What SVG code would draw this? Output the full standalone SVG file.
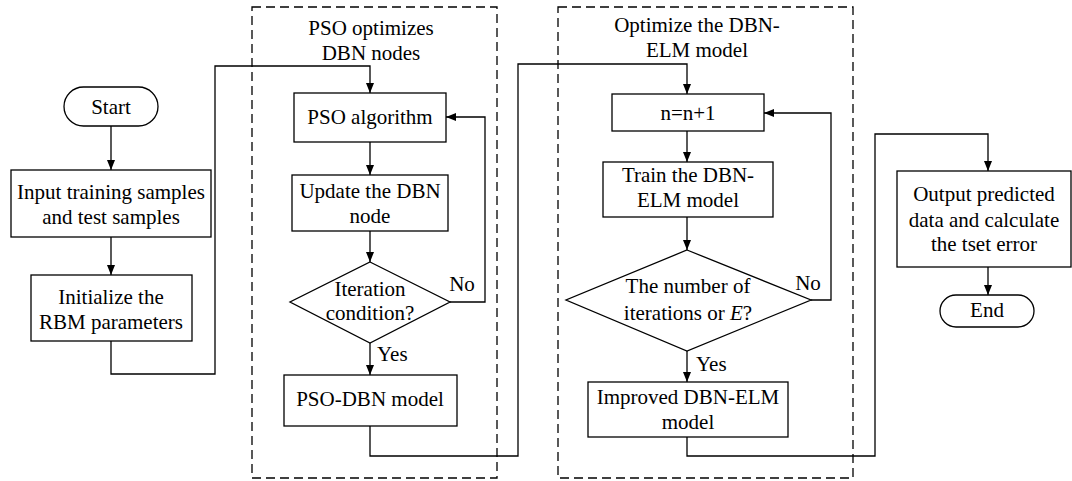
<svg xmlns="http://www.w3.org/2000/svg" width="1072" height="481" viewBox="0 0 1072 481">
<style>
.n{fill:#fff;stroke:#000;stroke-width:1.3}
.c{fill:none;stroke:#000;stroke-width:1.3}
.d{fill:none;stroke:#000;stroke-width:1.3;stroke-dasharray:9 5}
text{font-family:"Liberation Serif","Times New Roman",serif;font-size:21px;fill:#000;text-anchor:middle}
.l{text-anchor:start}
</style>
<defs>
<marker id="a" viewBox="0 0 10 10" refX="10" refY="5" markerWidth="10" markerHeight="10" markerUnits="userSpaceOnUse" orient="auto">
<path d="M0,1 L10,5 L0,9 Z" fill="#000"/>
</marker>
</defs>
<rect width="1072" height="481" fill="#fff"/>
<g id="group1">
<rect class="d" x="252" y="7" width="245" height="471"/>
<text x="371" y="35">PSO optimizes</text>
<text x="371" y="60">DBN nodes</text>
</g>
<g id="group2">
<rect class="d" x="558" y="7" width="295" height="471"/>
<text x="697" y="32">Optimize the DBN-</text>
<text x="697" y="57">ELM model</text>
</g>
<g id="connectors">
<path class="c" d="M111,126 V170" marker-end="url(#a)"/>
<path class="c" d="M111,237 V275" marker-end="url(#a)"/>
<path class="c" d="M111,341 V374 H215 V66 H370 V93" marker-end="url(#a)"/>
<path class="c" d="M370,142 V175" marker-end="url(#a)"/>
<path class="c" d="M370,231 V262" marker-end="url(#a)"/>
<path class="c" d="M450,302 H485 V117 H446" marker-end="url(#a)"/>
<path class="c" d="M370,343 V375" marker-end="url(#a)"/>
<path class="c" d="M370,426 V456 H518 V64 H687 V94" marker-end="url(#a)"/>
<path class="c" d="M687,131 V162" marker-end="url(#a)"/>
<path class="c" d="M687,217 V250" marker-end="url(#a)"/>
<path class="c" d="M811,300 H831 V113 H764" marker-end="url(#a)"/>
<path class="c" d="M687,351 V382" marker-end="url(#a)"/>
<path class="c" d="M687,437 V456 H875 V134 H988 V171" marker-end="url(#a)"/>
<path class="c" d="M988,267 V295" marker-end="url(#a)"/>
<text x="462" y="291">No</text>
<text class="l" x="377" y="361">Yes</text>
<text x="808" y="290">No</text>
<text class="l" x="696" y="371">Yes</text>
</g>
<g id="start">
<rect class="n" x="64" y="87" width="94" height="39" rx="19.5"/>
<text x="111" y="114">Start</text>
</g>
<g id="input">
<rect class="n" x="11" y="170" width="200" height="67"/>
<text x="111" y="199">Input training samples</text>
<text x="111" y="224">and test samples</text>
</g>
<g id="init">
<rect class="n" x="31" y="275" width="161" height="66"/>
<text x="111" y="304">Initialize the</text>
<text x="111" y="329">RBM parameters</text>
</g>
<g id="pso">
<rect class="n" x="294" y="93" width="152" height="49"/>
<text x="370" y="124">PSO algorithm</text>
</g>
<g id="update">
<rect class="n" x="292" y="175" width="156" height="56"/>
<text x="370" y="198">Update the DBN</text>
<text x="370" y="223">node</text>
</g>
<g id="iter">
<polygon class="n" points="370,262 450,302 370,343 290,302"/>
<text x="370" y="296">Iteration</text>
<text x="370" y="320">condition?</text>
</g>
<g id="psodbn">
<rect class="n" x="284" y="375" width="173" height="51"/>
<text x="370" y="406">PSO-DBN model</text>
</g>
<g id="nn">
<rect class="n" x="612" y="94" width="152" height="37"/>
<text x="688" y="120">n=n+1</text>
</g>
<g id="train">
<rect class="n" x="603" y="162" width="170" height="55"/>
<text x="688" y="182">Train the DBN-</text>
<text x="688" y="207">ELM model</text>
</g>
<g id="num">
<polygon class="n" points="687,250 811,300 687,351 566,300"/>
<text x="688" y="293">The number of</text>
<text x="688" y="320">iterations or <tspan font-style="italic">E</tspan>?</text>
</g>
<g id="improved">
<rect class="n" x="588" y="382" width="200" height="55"/>
<text x="688" y="404">Improved DBN-ELM</text>
<text x="688" y="429">model</text>
</g>
<g id="output">
<rect class="n" x="897" y="171" width="174" height="96"/>
<text x="984" y="201">Output predicted</text>
<text x="984" y="227">data and calculate</text>
<text x="984" y="251">the tset error</text>
</g>
<g id="end">
<rect class="n" x="940" y="295" width="94" height="32" rx="16"/>
<text x="987" y="317">End</text>
</g>
</svg>
